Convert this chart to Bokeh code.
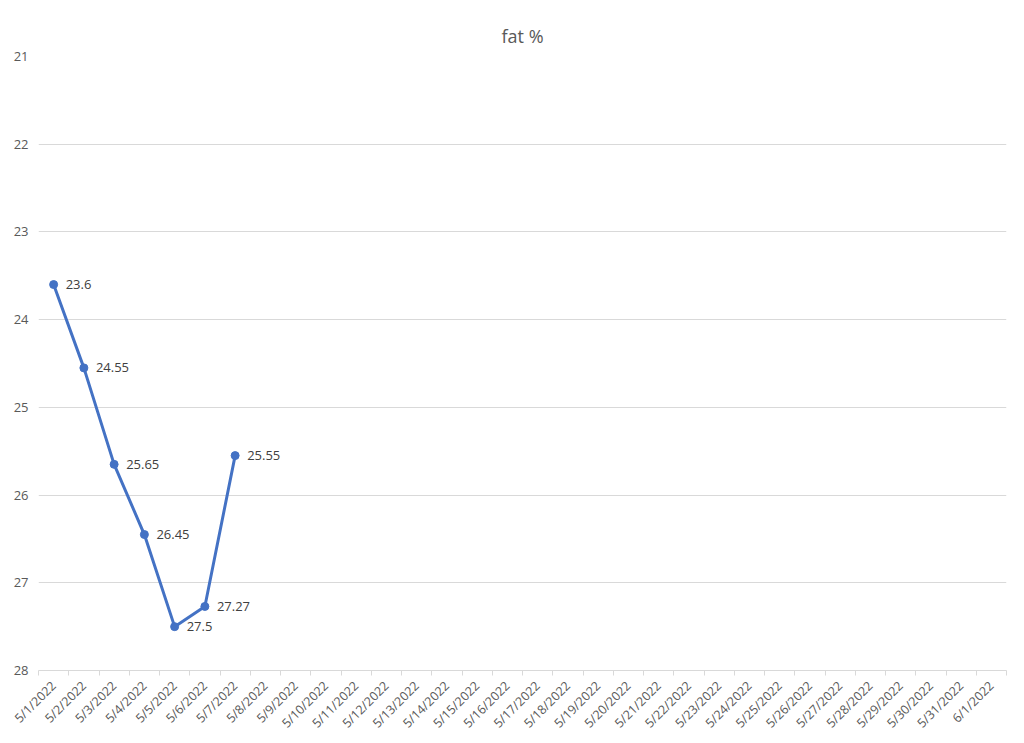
from bokeh.plotting import figure
from bokeh.models import Range1d, FixedTicker, ColumnDataSource, Title, LabelSet
from bokeh.core.properties import value
from bokeh.embed import file_html
from bokeh.resources import INLINE
from math import pi

categories = ["5/%d/2022" % d for d in range(1, 32)] + ["6/1/2022"]
fat_dates = ["5/1/2022", "5/2/2022", "5/3/2022", "5/4/2022", "5/5/2022", "5/6/2022", "5/7/2022"]
fat_values = [23.6, 24.55, 25.65, 26.45, 27.5, 27.27, 25.55]
fat_labels = ["23.6", "24.55", "25.65", "26.45", "27.5", "27.27", "25.55"]
y_ticks = [21, 22, 23, 24, 25, 26, 27, 28]
title_text = "fat %"

FONT = "Open Sans"
n = len(categories)
xs = [categories.index(d) + 0.5 for d in fat_dates]

p = figure(frame_width=968, frame_height=614, output_backend="svg", toolbar_location=None,
           x_range=Range1d(0, n), y_range=Range1d(28, 21),
           min_border_left=38, min_border_right=18, min_border_top=56, min_border_bottom=10)
p.outline_line_color = None
p.background_fill_color = "white"
p.border_fill_color = "white"

t = Title(text=title_text, align="center", text_font=FONT, text_font_size="18px",
          text_color="#595959", text_font_style="normal", offset=0, standoff=18)
p.add_layout(t, "above")

# x axis
p.xaxis.ticker = FixedTicker(ticks=[i + 0.5 for i in range(n)], minor_ticks=list(range(n + 1)))
p.xaxis.major_label_overrides = {i + 0.5: c for i, c in enumerate(categories)}
p.xaxis.major_label_orientation = pi / 4
p.xaxis.major_tick_line_color = None
p.xaxis.major_tick_out = 0
p.xaxis.major_tick_in = 0
p.xaxis.minor_tick_line_color = "#d9d9d9"
p.xaxis.minor_tick_out = 5
p.xaxis.minor_tick_in = 0
p.xaxis.axis_line_color = "#d9d9d9"
p.xaxis.axis_line_width = 1
p.xaxis.major_label_text_font = FONT
p.xaxis.major_label_text_font_size = "12.5px"
p.xaxis.major_label_text_color = "#595959"
p.xaxis.major_label_standoff = 8

# y axis
p.yaxis.ticker = FixedTicker(ticks=y_ticks)
p.yaxis.axis_line_color = None
p.yaxis.major_tick_line_color = None
p.yaxis.major_tick_out = 0
p.yaxis.major_tick_in = 0
p.yaxis.minor_tick_line_color = None
p.yaxis.major_label_text_font = FONT
p.yaxis.major_label_text_font_size = "13px"
p.yaxis.major_label_text_color = "#595959"
p.yaxis.major_label_standoff = 10

p.xgrid.grid_line_color = None
p.ygrid.ticker = FixedTicker(ticks=y_ticks)
p.ygrid.grid_line_color = "#d9d9d9"
p.ygrid.grid_line_width = 1

src = ColumnDataSource(dict(x=xs, y=fat_values, label=fat_labels))
p.line("x", "y", source=src, line_color="#4472C4", line_width=3)
p.scatter("x", "y", source=src, size=8, fill_color="#4472C4", line_color="#4472C4")

labels = LabelSet(x="x", y="y", text="label", source=src, x_offset=12, y_offset=0,
                  text_baseline="middle", text_align="left", text_font=value(FONT),
                  text_font_size="13px", text_color="#404040")
p.add_layout(labels)

open("out.html", "w").write(file_html(p, INLINE))
